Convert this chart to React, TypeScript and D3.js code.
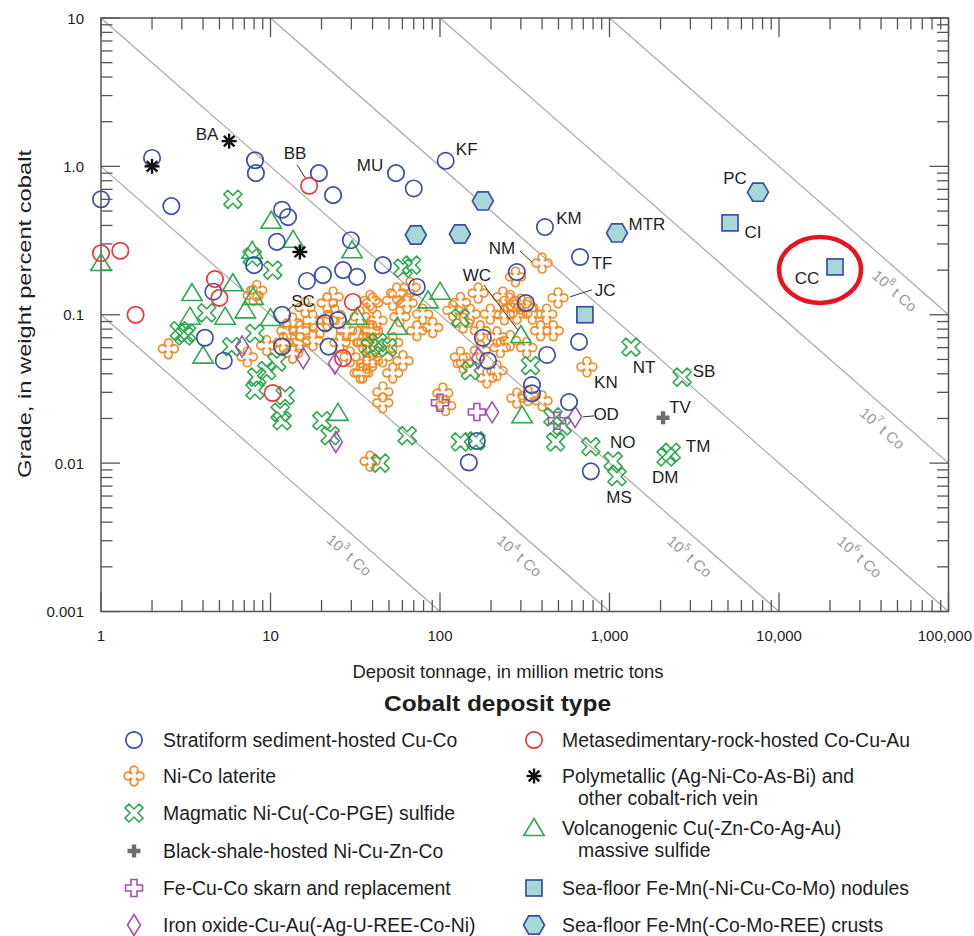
import React from "react";
import * as d3 from "d3";

type Pt = [number, number];

// ---------- DATA (tonnage in Mt, grade in wt% Co) ----------
const stratiform: Pt[] = [
  [2.0, 1.14], [1.0, 0.6], [2.6, 0.54], [8.1, 1.1], [8.2, 0.9], [19.3, 0.9], [23.4, 0.64], [55, 0.9], [70, 0.71], [108, 1.09],
  [11.7, 0.51], [12.7, 0.455], [10.9, 0.31], [29.8, 0.318], [416, 0.39], [670, 0.245], [284, 0.194], [8.0, 0.216],
  [16.4, 0.169], [20.4, 0.185], [26.8, 0.2], [32.4, 0.18], [46, 0.216], [73, 0.154], [4.6, 0.143], [11.7, 0.1],
  [4.1, 0.07], [5.3, 0.049], [21, 0.088], [25, 0.092], [22, 0.061], [11.7, 0.061], [321, 0.12], [179, 0.07],
  [192, 0.049], [661, 0.0656], [428, 0.0536], [349, 0.0336], [349, 0.0295], [577, 0.0258], [165, 0.0141],
  [148, 0.0101], [776, 0.0088],
];
const metasedimentary: Pt[] = [
  [16.9, 0.74], [1.0, 0.26], [1.3, 0.27], [1.6, 0.1], [4.7, 0.174], [5.0, 0.13], [30.6, 0.122], [26.8, 0.051], [10.3, 0.0297],
];
const laterite: Pt[] = [
  [2.5, 0.059], [7.9, 0.135], [8.3, 0.146], [9.5, 0.062], [11.9, 0.065], [13.5, 0.055], [17.8, 0.067], [19.6, 0.0815],
  [14.9, 0.078], [21.6, 0.12], [23.4, 0.132], [28.1, 0.078], [32.8, 0.071], [38.7, 0.078], [40, 0.12], [35, 0.0405],
  [40, 0.049], [38.7, 0.0103], [7.3, 0.052], [21.6, 0.0916], [17.8, 0.0916], [12.5, 0.078], [25.7, 0.065], [14.9, 0.065],
  [29.5, 0.052], [37, 0.065], [42.5, 0.0916], [13.5, 0.088], [24, 0.1], [16, 0.112],
  [400, 0.223], [279, 0.18], [497, 0.13], [736, 0.0445], [260, 0.125], [235, 0.132], [240, 0.1], [284, 0.101],
  [350, 0.101], [426, 0.101], [392, 0.078], [466, 0.078], [198, 0.101], [132, 0.121], [119, 0.107], [151, 0.101],
  [137, 0.088], [173, 0.078], [217, 0.071], [260, 0.067], [325, 0.06], [227, 0.06], [132, 0.052], [137, 0.047],
  [217, 0.042], [189, 0.0375], [284, 0.0274], [330, 0.0285], [400, 0.0263], [104, 0.0297], [46, 0.0302], [46, 0.0255],
  [64, 0.12], [52.6, 0.125], [58, 0.097], [73, 0.078], [90.6, 0.082], [38.7, 0.125], [33.8, 0.097], [40, 0.078],
  [35, 0.065], [52.6, 0.065], [46, 0.052], [60.5, 0.049], [37, 0.047], [33.8, 0.0405], [52.6, 0.0405], [79, 0.101],
  [66.7, 0.153], [55.5, 0.14], [173, 0.0574], [108, 0.0244], [300, 0.118], [330, 0.112], [270, 0.112], [168, 0.14],
];
const magmatic: Pt[] = [
  [6.0, 0.6], [7.8, 0.245], [10.3, 0.2], [4.2, 0.103], [3.2, 0.075], [2.9, 0.078], [3.1, 0.072], [5.9, 0.061],
  [8.1, 0.075], [8.3, 0.038], [8.1, 0.031], [9.5, 0.042], [10.9, 0.048], [12.2, 0.0285], [11.4, 0.022], [11.7, 0.0193],
  [20.1, 0.0193], [22.5, 0.0153], [44.4, 0.01], [64, 0.0153], [132, 0.0139], [163, 0.0141], [481, 0.0139], [776, 0.0129],
  [1050, 0.0103], [1107, 0.0081], [1340, 0.0605], [2680, 0.038], [2310, 0.0118], [2160, 0.011], [60.5, 0.206], [68, 0.216],
  [342, 0.0454], [151, 0.042], [464, 0.0205], [525, 0.0178], [132, 0.095], [43, 0.065], [49, 0.06], [38.7, 0.06],
];
const blackShale: Pt[] = [[2070, 0.0202]];
const skarn: Pt[] = [[100, 0.0255], [165, 0.0221], [490, 0.0193]];
const ironOxide: Pt[] = [[6.8, 0.061], [15.6, 0.051], [24, 0.047], [24.3, 0.0139], [168, 0.051], [203, 0.022], [627, 0.0205]];
const polymetallic: Pt[] = [[5.7, 1.48], [2.0, 1.0], [14.9, 0.265]];
const volcanogenic: Pt[] = [
  [1.0, 0.223], [10.1, 0.43], [13.6, 0.32], [7.8, 0.27], [30.3, 0.272], [3.44, 0.14], [6.0, 0.163], [7.9, 0.132],
  [7.1, 0.107], [5.4, 0.097], [3.35, 0.097], [10, 0.095], [4.0, 0.053], [32.4, 0.097], [25, 0.0218], [305, 0.021],
  [300, 0.073], [100, 0.143], [85, 0.125], [56, 0.083],
];
const nodules: Pt[] = [[5140, 0.416], [21400, 0.21], [716, 0.1]];
const crusts: Pt[] = [[7516, 0.67], [179, 0.585], [72, 0.345], [131, 0.35], [1107, 0.356]];

const xTickValues = [1, 10, 100, 1000, 10000, 100000];
const xTickLabels = ["1", "10", "100", "1,000", "10,000", "100,000"];
const yTickValues = [0.001, 0.01, 0.1, 1, 10];
const yTickLabels = ["0.001", "0.01", "0.1", "1.0", "10"];

const isoExponents = [3, 4, 5, 6, 7, 8];
const isoLabelTonnage = [34, 344, 3470, 34900, 47600, 56300];

type Ann = { text: string; t: number; g: number; dx: number; dy: number; leader?: [number, number, number, number] };
const annotations: Ann[] = [
  { text: "BA", t: 5.7, g: 1.48, dx: -22, dy: -7 },
  { text: "BB", t: 16.9, g: 0.74, dx: -14, dy: -32, leader: [-4, -8, -12, -21] },
  { text: "MU", t: 55, g: 0.9, dx: -26, dy: -8 },
  { text: "KF", t: 108, g: 1.09, dx: 21, dy: -11 },
  { text: "KM", t: 416, g: 0.39, dx: 24, dy: -9 },
  { text: "MTR", t: 1107, g: 0.356, dx: 30, dy: -8 },
  { text: "PC", t: 7516, g: 0.67, dx: -23, dy: -14 },
  { text: "CI", t: 5140, g: 0.416, dx: 23, dy: 10 },
  { text: "CC", t: 21400, g: 0.21, dx: -28, dy: 12 },
  { text: "NM", t: 400, g: 0.223, dx: -40, dy: -15, leader: [-10, -1, -22, -12] },
  { text: "TF", t: 670, g: 0.245, dx: 22, dy: 6 },
  { text: "JC", t: 497, g: 0.13, dx: 47, dy: -7, leader: [12, -1, 34, -8] },
  { text: "WC", t: 300, g: 0.073, dx: -44, dy: -60, leader: [-3, -5, -37, -50] },
  { text: "NT", t: 1340, g: 0.0605, dx: 13, dy: 20 },
  { text: "SB", t: 2680, g: 0.038, dx: 22, dy: -6 },
  { text: "KN", t: 736, g: 0.0445, dx: 19, dy: 16 },
  { text: "TV", t: 2070, g: 0.0202, dx: 17, dy: -10 },
  { text: "OD", t: 627, g: 0.0205, dx: 31, dy: -2, leader: [8, 0, 19, -1] },
  { text: "NO", t: 776, g: 0.0129, dx: 32, dy: -4 },
  { text: "TM", t: 2310, g: 0.0118, dx: 27, dy: -6 },
  { text: "DM", t: 2160, g: 0.011, dx: -1, dy: 21 },
  { text: "MS", t: 1107, g: 0.0081, dx: 2, dy: 21 },
  { text: "SC", t: 11.7, g: 0.1, dx: 21, dy: -13, leader: [5, -4, 12, -10] },
];

const legendLeft = [
  { sym: "circle", lines: ["Stratiform sediment-hosted Cu-Co"] },
  { sym: "clover", lines: ["Ni-Co laterite"] },
  { sym: "saltire", lines: ["Magmatic Ni-Cu(-Co-PGE) sulfide"] },
  { sym: "shale", lines: ["Black-shale-hosted Ni-Cu-Zn-Co"] },
  { sym: "skarn", lines: ["Fe-Cu-Co skarn and replacement"] },
  { sym: "diamond", lines: ["Iron oxide-Cu-Au(-Ag-U-REE-Co-Ni)"] },
];
const legendRight = [
  { sym: "redcircle", lines: ["Metasedimentary-rock-hosted Co-Cu-Au"] },
  { sym: "asterisk", lines: ["Polymetallic (Ag-Ni-Co-As-Bi) and", "other cobalt-rich vein"] },
  { sym: "triangle", lines: ["Volcanogenic Cu(-Zn-Co-Ag-Au)", "massive sulfide"] },
  { sym: "square", lines: ["Sea-floor Fe-Mn(-Ni-Cu-Co-Mo) nodules"] },
  { sym: "hexagon", lines: ["Sea-floor Fe-Mn(-Co-Mo-REE) crusts"] },
];

// ---------- STYLE ----------
const FONT = "'Liberation Sans', Arial, sans-serif";
const C = {
  blue: "#3d4fa3",
  red: "#e5383b",
  orange: "#f28c28",
  green: "#2fa84f",
  purple: "#a24fae",
  teal: "#a6d8d8",
  shale: "#6e6e6e",
  axis: "#555",
  iso: "#a8a8a8",
  text: "#1e1e1e",
};

const x = d3.scaleLog().domain([1, 100000]).range([101, 948.5]);
const y = d3.scaleLog().domain([0.001, 10]).range([611.5, 18]);

function plusPath(w: number, L: number) {
  return `M${-w},${-L}L${w},${-L}L${w},${-w}L${L},${-w}L${L},${w}L${w},${w}L${w},${L}L${-w},${L}L${-w},${w}L${-L},${w}L${-L},${-w}L${-w},${-w}Z`;
}
function cloverPath() {
  const c = 6, R = 3.9, w = 2.3;
  const k = c - Math.sqrt(R * R - w * w);
  return `M${-w},${-k}A${R},${R} 0 1 1 ${w},${-k}L${k},${-w}A${R},${R} 0 1 1 ${k},${w}L${w},${k}A${R},${R} 0 1 1 ${-w},${k}L${-k},${w}A${R},${R} 0 1 1 ${-k},${-w}Z`;
}
function hexPath(R: number) {
  const pts = d3.range(6).map((i) => {
    const a = (Math.PI / 3) * i;
    return [R * Math.cos(a), R * Math.sin(a)];
  });
  return "M" + pts.map((p) => p.join(",")).join("L") + "Z";
}

function Symbol({ kind, cx, cy }: { kind: string; cx: number; cy: number }) {
  const t = `translate(${cx},${cy})`;
  switch (kind) {
    case "circle":
      return <circle cx={cx} cy={cy} r={8.2} fill="none" stroke={C.blue} strokeWidth={1.7} />;
    case "redcircle":
      return <circle cx={cx} cy={cy} r={8.2} fill="none" stroke={C.red} strokeWidth={1.7} />;
    case "clover":
      return <path transform={t} d={cloverPath()} fill="none" stroke={C.orange} strokeWidth={1.6} />;
    case "saltire":
      return <path transform={`${t} rotate(45)`} d={plusPath(2.8, 10)} fill="none" stroke={C.green} strokeWidth={1.6} strokeLinejoin="round" />;
    case "shale":
      return <path transform={t} d={plusPath(2.2, 6.5)} fill={C.shale} stroke="none" />;
    case "skarn":
      return <path transform={t} d={plusPath(3, 8.5)} fill="none" stroke={C.purple} strokeWidth={1.6} />;
    case "diamond":
      return <path transform={t} d="M0,-10.5L6.5,0L0,10.5L-6.5,0Z" fill="none" stroke={C.purple} strokeWidth={1.6} />;
    case "asterisk":
      return (
        <g transform={t} stroke="#111" strokeWidth={2.4}>
          {[0, 45, 90, 135].map((a) => (
            <line key={a} x1={-7.5} y1={0} x2={7.5} y2={0} transform={`rotate(${a})`} />
          ))}
        </g>
      );
    case "triangle":
      return <path transform={t} d="M0,-9.5L10.2,7.5L-10.2,7.5Z" fill="none" stroke={C.green} strokeWidth={1.6} />;
    case "square":
      return <rect x={cx - 8} y={cy - 8} width={16} height={16} fill={C.teal} stroke={C.blue} strokeWidth={1.7} />;
    case "hexagon":
      return <path transform={t} d={hexPath(10.5)} fill={C.teal} stroke={C.blue} strokeWidth={1.7} />;
  }
  return null;
}

const series: { kind: string; data: Pt[] }[] = [
  { kind: "clover", data: laterite },
  { kind: "saltire", data: magmatic },
  { kind: "triangle", data: volcanogenic },
  { kind: "diamond", data: ironOxide },
  { kind: "skarn", data: skarn },
  { kind: "circle", data: stratiform },
  { kind: "redcircle", data: metasedimentary },
  { kind: "asterisk", data: polymetallic },
  { kind: "shale", data: blackShale },
  { kind: "square", data: nodules },
  { kind: "hexagon", data: crusts },
];

export default function App() {
  const [x0, x1] = x.range();
  const [y0, y1] = y.range(); // y0 bottom, y1 top
  const minorX: number[] = [];
  for (let e = 0; e < 5; e++) for (let m = 2; m <= 9; m++) minorX.push(m * Math.pow(10, e));
  const minorY: number[] = [];
  for (let e = -3; e < 1; e++) for (let m = 2; m <= 9; m++) minorY.push(m * Math.pow(10, e));
  const MAJ = 19, MIN = 11.5;

  const ang = (Math.atan2(y(0.1) - y(1), x(10) - x(1)) * 180) / Math.PI;
  const rad = (ang * Math.PI) / 180;
  const nx = -Math.sin(rad), ny = Math.cos(rad); // perpendicular pointing lower-left

  const cc = annotations.find((a) => a.text === "CC")!;

  return (
    <svg width={974} height={936} style={{ position: "absolute", left: 0, top: 0, background: "#fff" }} fontFamily={FONT}>
      <rect x={0} y={0} width={974} height={936} fill="#fff" />
      {/* iso-tonnage lines */}
      {isoExponents.map((e, i) => {
        const Cv = Math.pow(10, e - 4);
        const tA = Math.max(1, Cv / 10), tB = Math.min(100000, Cv / 0.001);
        const lt = isoLabelTonnage[i];
        const px = x(lt) + nx * 17, py = y(Cv / lt) + ny * 17;
        return (
          <g key={e}>
            <line x1={x(tA)} y1={y(Cv / tA)} x2={x(tB)} y2={y(Cv / tB)} stroke={C.iso} strokeWidth={1.2} />
            <text transform={`translate(${px},${py}) rotate(${ang})`} textAnchor="middle" dominantBaseline="central" fill="#999" fontSize={15}>
              10<tspan fontSize={10} dy={-6}>{e}</tspan>
              <tspan dy={6}> t Co</tspan>
            </text>
          </g>
        );
      })}

      {/* frame */}
      <rect x={x0} y={y1} width={x1 - x0} height={y0 - y1} fill="none" stroke={C.axis} strokeWidth={1.5} />
      <g stroke={C.axis} strokeWidth={1.3}>
        {xTickValues.map((v) => (
          <g key={"xm" + v}>
            <line x1={x(v)} x2={x(v)} y1={y0} y2={y0 - MAJ} />
            <line x1={x(v)} x2={x(v)} y1={y1} y2={y1 + MAJ} />
          </g>
        ))}
        {minorX.map((v) => (
          <g key={"xn" + v}>
            <line x1={x(v)} x2={x(v)} y1={y0} y2={y0 - MIN} />
            <line x1={x(v)} x2={x(v)} y1={y1} y2={y1 + MIN} />
          </g>
        ))}
        {yTickValues.map((v) => (
          <g key={"ym" + v}>
            <line y1={y(v)} y2={y(v)} x1={x0} x2={x0 + MAJ} />
            <line y1={y(v)} y2={y(v)} x1={x1} x2={x1 - MAJ} />
          </g>
        ))}
        {minorY.map((v) => (
          <g key={"yn" + v}>
            <line y1={y(v)} y2={y(v)} x1={x0} x2={x0 + MIN} />
            <line y1={y(v)} y2={y(v)} x1={x1} x2={x1 - MIN} />
          </g>
        ))}
      </g>

      {/* tick labels */}
      {xTickValues.map((v, i) => {
        const last = i === xTickValues.length - 1;
        return (
          <text key={"xl" + v} x={last ? 972 : x(v)} y={641} textAnchor={last ? "end" : "middle"} fontSize={15} fill={C.text}>
            {xTickLabels[i]}
          </text>
        );
      })}
      {yTickValues.map((v, i) => (
        <text key={"yl" + v} x={84} y={y(v)} textAnchor="end" dominantBaseline="central" fontSize={15} fill={C.text}>
          {yTickLabels[i]}
        </text>
      ))}

      {/* axis titles */}
      <text x={508} y={678} textAnchor="middle" fontSize={18} fill={C.text} textLength={311} lengthAdjust="spacingAndGlyphs">
        Deposit tonnage, in million metric tons
      </text>
      <text transform={`translate(24,314) rotate(-90)`} textAnchor="middle" dominantBaseline="central" fontSize={19} fill={C.text} textLength={328} lengthAdjust="spacingAndGlyphs">
        Grade, in weight percent cobalt
      </text>

      {/* points */}
      {series.map((s) =>
        s.data.map((d, i) => <Symbol key={s.kind + i} kind={s.kind} cx={x(d[0])} cy={y(d[1])} />)
      )}

      {/* annotations */}
      {annotations.map((a) => {
        const px = x(a.t), py = y(a.g);
        return (
          <g key={a.text}>
            {a.leader && (
              <line x1={px + a.leader[0]} y1={py + a.leader[1]} x2={px + a.leader[2]} y2={py + a.leader[3]} stroke="#333" strokeWidth={1} />
            )}
            <text x={px + a.dx} y={py + a.dy} textAnchor="middle" dominantBaseline="central" fontSize={17} fill={C.text}>
              {a.text}
            </text>
          </g>
        );
      })}

      {/* highlight ellipse around CC */}
      <ellipse cx={x(cc.t) - 15} cy={y(cc.g) + 3} rx={41} ry={33} fill="none" stroke="#e8141c" strokeWidth={4.5} />

      {/* legend */}
      <text x={497.5} y={711} textAnchor="middle" fontSize={22} fontWeight="bold" fill={C.text} textLength={227} lengthAdjust="spacingAndGlyphs">
        Cobalt deposit type
      </text>
      {legendLeft.map((l, i) => {
        const base = [747, 783, 820, 858, 895, 932][i];
        return (
          <g key={"ll" + i}>
            <Symbol kind={l.sym} cx={134} cy={base - 7} />
            <text x={163} y={base} fontSize={19.4} fill={C.text}>
              {l.lines[0]}
            </text>
          </g>
        );
      })}
      {legendRight.map((l, i) => {
        const base = [747, 783, 835, 895, 932][i];
        return (
          <g key={"lr" + i}>
            <Symbol kind={l.sym} cx={534} cy={base - 7} />
            <text x={562} y={base} fontSize={19.4} fill={C.text}>
              {l.lines[0]}
            </text>
            {l.lines[1] && (
              <text x={578} y={base + 22} fontSize={19.4} fill={C.text}>
                {l.lines[1]}
              </text>
            )}
          </g>
        );
      })}
    </svg>
  );
}
